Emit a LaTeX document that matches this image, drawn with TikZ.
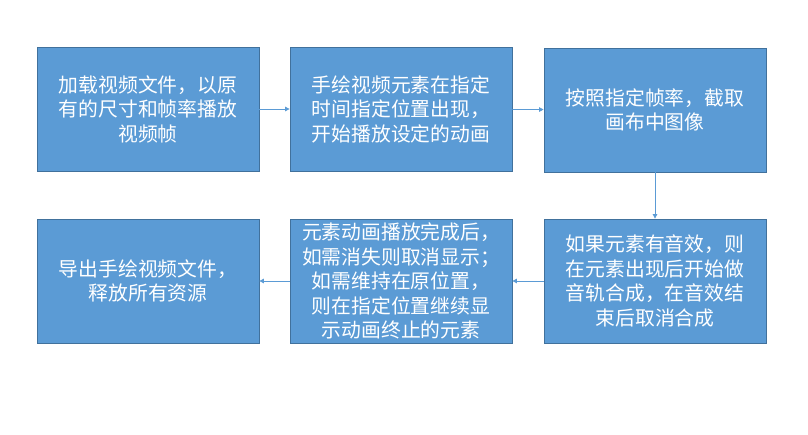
\documentclass[tikz,border=0pt]{standalone}
\usepackage{fontspec}
\setmainfont{Noto Sans CJK SC}
\usetikzlibrary{arrows.meta}
\begin{document}
\begin{tikzpicture}[x=1pt,y=-1pt]
\definecolor{cfill}{HTML}{5B9BD5}\definecolor{cedge}{HTML}{41719C}
\definecolor{cline}{HTML}{5B9BD5}
\tikzset{stepbox/.style={draw=cedge,fill=cfill,line width=0.8pt,minimum width=222pt,minimum height=124pt,inner sep=0pt,align=center,text=white,font=\fontsize{19.8}{24.5}\selectfont},
 flow/.style={draw=cline,line width=0.8pt,-{Triangle[length=4.5pt,width=4.5pt]}}}
\fill[white] (0,0) rectangle (808,435);
\useasboundingbox (0,0) rectangle (808,435);
% top row
\node[stepbox] (load) at (148,109) {加载视频文件，以原\\有的尺寸和帧率播放\\视频帧};
\node[stepbox] (draw) at (401,109) {手绘视频元素在指定\\时间指定位置出现，\\开始播放设定的动画};
\node[stepbox] (grab) at (655,110) {按照指定帧率，截取\\画布中图像};
% bottom row
\node[stepbox] (audio) at (655,281) {如果元素有音效，则\\在元素出现后开始做\\音轨合成，在音效结\\束后取消合成};
\node[stepbox] (keep) at (401,281) {元素动画播放完成后，\\如需消失则取消显示；\\如需维持在原位置，\\则在指定位置继续显\\示动画终止的元素};
\node[stepbox] (export) at (148,281) {导出手绘视频文件，\\释放所有资源};
% arrows
\draw[flow] (load) -- (draw);
\draw[flow] (draw) -- (grab);
\draw[flow] (grab) -- (audio);
\draw[flow] (audio) -- (keep);
\draw[flow] (keep) -- (export);
\end{tikzpicture}
\end{document}
